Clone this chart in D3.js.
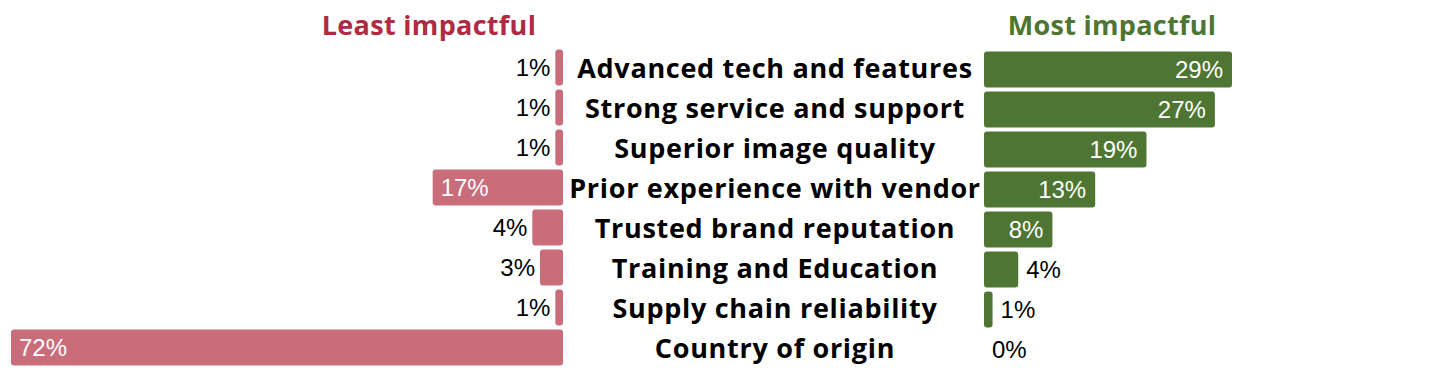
<!DOCTYPE html>
<html>
<head>
<meta charset="utf-8">
<script src="https://cdn.jsdelivr.net/npm/d3@7"></script>
<style>
	body { margin: 0; background: #fff; }
	.category { font-family: "Open Sans", sans-serif; font-weight: 700; font-size: 27px; letter-spacing: 0.7px; fill: #000; }
	.title { font-family: "Open Sans", sans-serif; font-weight: 700; font-size: 27px; letter-spacing: 0.3px; }
	.value { font-family: "Liberation Sans", Arial, sans-serif; font-size: 24px; }
</style>
</head>
<body>
<div id="chart"></div>
<script>
const categories = [
	"Advanced tech and features",
	"Strong service and support",
	"Superior image quality",
	"Prior experience with vendor",
	"Trusted brand reputation",
	"Training and Education",
	"Supply chain reliability",
	"Country of origin"
];
const leastImpactful = [1, 1, 1, 17, 4, 3, 1, 72];
const mostImpactful = [29, 27, 19, 13, 8, 4, 1, 0];

const width = 1441, height = 382;
const pink = "#c96d7a", green = "#4e7532";

const svg = d3.select("#chart")
	.append("svg")
	.attr("width", width)
	.attr("height", height);

const y = d3.scaleBand()
	.domain(categories)
	.range([47.5, 367.5])
	.paddingInner(0.1)
	.paddingOuter(0.05);

const xLeft = d3.scaleLinear().domain([0, 72]).range([563, 11]);
const xRight = d3.scaleLinear().domain([0, 29]).range([984, 1232]);

// titles
svg.append("text")
	.classed("title", true)
	.attr("x", 429)
	.attr("y", 35)
	.attr("text-anchor", "middle")
	.attr("fill", "#b02a43")
	.text("Least impactful");
svg.append("text")
	.classed("title", true)
	.attr("x", 1112)
	.attr("y", 35)
	.attr("text-anchor", "middle")
	.attr("fill", "#4e7532")
	.text("Most impactful");

// left bars
const left = svg.append("g");
left.selectAll("rect")
	.data(leastImpactful)
	.enter()
	.append("rect")
	.attr("x", d => xLeft(d))
	.attr("y", (d, i) => y(categories[i]))
	.attr("width", d => xLeft(0) - xLeft(d))
	.attr("height", y.bandwidth())
	.attr("rx", 3)
	.attr("fill", pink);
left.selectAll("text")
	.data(leastImpactful)
	.enter()
	.append("text")
	.classed("value", true)
	.attr("x", d => d >= 8 ? xLeft(d) + 8 : xLeft(d) - 5)
	.attr("y", (d, i) => y(categories[i]) + y.bandwidth() / 2)
	.attr("dy", "0.36em")
	.attr("text-anchor", d => d >= 8 ? "start" : "end")
	.attr("fill", d => d >= 8 ? "#fff" : "#000")
	.text(d => d + "%");

// right bars (shifted down slightly like the original)
const right = svg.append("g").attr("transform", "translate(0,2)");
right.selectAll("rect")
	.data(mostImpactful)
	.enter()
	.append("rect")
	.attr("x", xRight(0))
	.attr("y", (d, i) => y(categories[i]))
	.attr("width", d => xRight(d) - xRight(0))
	.attr("height", y.bandwidth())
	.attr("rx", 3)
	.attr("fill", green);
right.selectAll("text")
	.data(mostImpactful)
	.enter()
	.append("text")
	.classed("value", true)
	.attr("x", d => d >= 8 ? xRight(d) - 9 : xRight(d) + 8)
	.attr("y", (d, i) => y(categories[i]) + y.bandwidth() / 2)
	.attr("dy", "0.36em")
	.attr("text-anchor", d => d >= 8 ? "end" : "start")
	.attr("fill", d => d >= 8 ? "#fff" : "#000")
	.text(d => d + "%");

// category labels in the middle
svg.append("g").selectAll("text")
	.data(categories)
	.enter()
	.append("text")
	.classed("category", true)
	.attr("x", 775)
	.attr("y", d => y(d) + y.bandwidth() / 2 + 1)
	.attr("dy", "0.36em")
	.attr("text-anchor", "middle")
	.text(d => d);
</script>
</body>
</html>
